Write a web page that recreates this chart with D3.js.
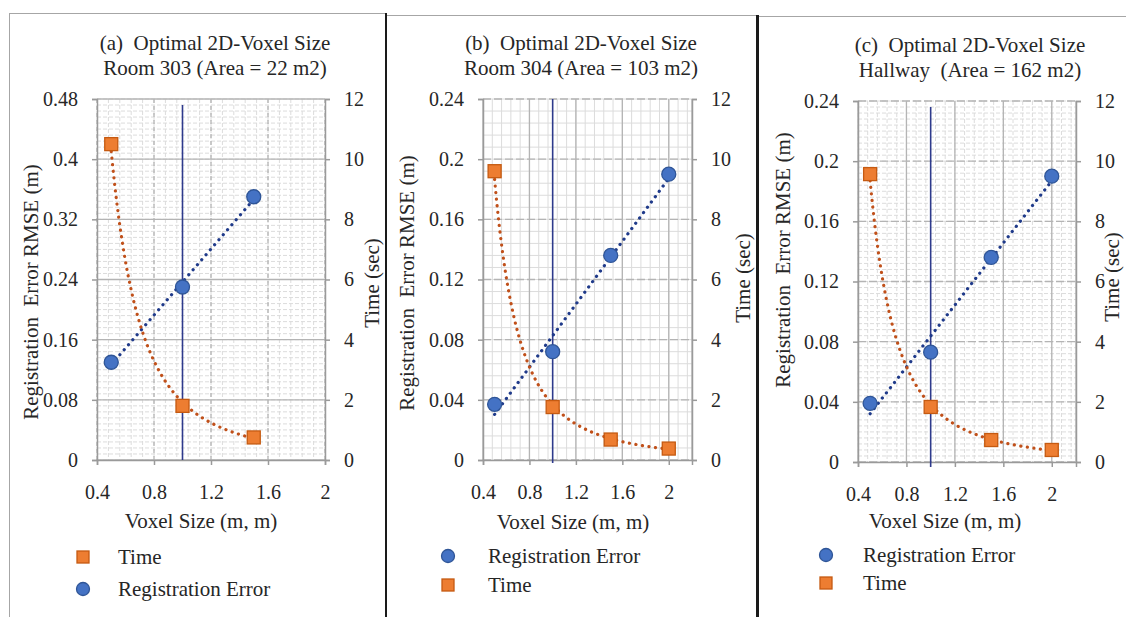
<!DOCTYPE html>
<html>
<head>
<meta charset="utf-8">
<script src="https://cdn.jsdelivr.net/npm/d3@7"></script>
<style>
  body { margin: 0; background: #fff; }
  svg { display: block; }
  text { fill: #262626; white-space: pre; }
</style>
</head>
<body>
<div id="chart"></div>
<script>
// values
var voxel_a = [0.5, 1.0, 1.5];
var regError_a = [0.13, 0.23, 0.35];
var time_a = [10.5, 1.8, 0.75];

var voxel_bc = [0.5, 1.0, 1.5, 2.0];
var regError_b = [0.037, 0.072, 0.136, 0.19];
var time_b = [9.6, 1.76, 0.68, 0.38];
var regError_c = [0.039, 0.073, 0.136, 0.19];
var time_c = [9.57, 1.83, 0.73, 0.4];

var xTicks = [0.4, 0.8, 1.2, 1.6, 2];
var errTicks_a = [0, 0.08, 0.16, 0.24, 0.32, 0.4, 0.48];
var errTicks_bc = [0, 0.04, 0.08, 0.12, 0.16, 0.2, 0.24];
var timeTicks = [0, 2, 4, 6, 8, 10, 12];
var optimalVoxel = 1.0;

var titles_a = ["(a)  Optimal 2D-Voxel Size", "Room 303 (Area = 22 m2)"];
var titles_b = ["(b)  Optimal 2D-Voxel Size", "Room 304 (Area = 103 m2)"];
var titles_c = ["(c)  Optimal 2D-Voxel Size", "Hallway  (Area = 162 m2)"];

var FONT = "'Liberation Serif', Tinos, 'Times New Roman', Times, 'DejaVu Serif', serif";
var W = 1126, H = 617;
var svg = d3.select("#chart").append("svg").attr("width", W).attr("height", H);

// panel frames
svg.append("rect").attr("x", 9.5).attr("y", 13.5).attr("width", 377).attr("height", 620)
  .attr("fill", "none").attr("stroke", "#a6a6a6").attr("stroke-width", 1);
svg.append("line").attr("x1", 386).attr("x2", 757).attr("y1", 15.5).attr("y2", 15.5)
  .attr("stroke", "#a6a6a6");
svg.append("line").attr("x1", 757).attr("x2", 1126).attr("y1", 16.5).attr("y2", 16.5)
  .attr("stroke", "#a6a6a6");
svg.append("line").attr("x1", 386).attr("x2", 386).attr("y1", 13).attr("y2", H)
  .attr("stroke", "#1a1a1a").attr("stroke-width", 2);
svg.append("line").attr("x1", 757.5).attr("x2", 757.5).attr("y1", 15).attr("y2", H)
  .attr("stroke", "#1a1a1a").attr("stroke-width", 3);

function linearFit(xs, ys) {
  var mx = d3.mean(xs), my = d3.mean(ys);
  var sxy = d3.sum(xs, (x, i) => (x - mx) * (ys[i] - my));
  var sxx = d3.sum(xs, (x) => (x - mx) * (x - mx));
  var b = sxy / sxx;
  return (x) => my + b * (x - mx);
}

function powerFit(xs, ys) {
  var lx = xs.map(Math.log), ly = ys.map(Math.log);
  var f = linearFit(lx, ly);
  return (x) => Math.exp(f(Math.log(x)));
}

function drawPanel(p) {
  var g = svg.append("g");
  var x = d3.scaleLinear().domain(p.xDomain).range([p.left, p.right]);
  var y = d3.scaleLinear().domain([0, p.errMax]).range([p.bottom, p.top]);
  var y2 = d3.scaleLinear().domain([0, 12]).range([p.bottom, p.top]);

  // minor grid
  var xMinor = d3.range(p.xDomain[0], p.xDomain[1] + 1e-9, 0.08);
  var yMinor = d3.range(0, p.errMax + 1e-9, p.errMax / p.yMinorCount);
  g.append("g").selectAll("line").data(xMinor).enter().append("line")
    .attr("x1", (d) => x(d)).attr("x2", (d) => x(d))
    .attr("y1", p.top).attr("y2", p.bottom)
    .attr("stroke", "#dcdcdc").attr("stroke-width", 1)
    .attr("stroke-dasharray", p.minorDash);
  g.append("g").selectAll("line").data(yMinor).enter().append("line")
    .attr("x1", p.left).attr("x2", p.right)
    .attr("y1", (d) => y(d)).attr("y2", (d) => y(d))
    .attr("stroke", "#dcdcdc").attr("stroke-width", 1)
    .attr("stroke-dasharray", p.minorDash);

  // major grid
  g.append("g").selectAll("line").data(xTicks.concat(p.xDomain[1] > 2 ? [p.xDomain[1]] : [])).enter().append("line")
    .attr("x1", (d) => x(d)).attr("x2", (d) => x(d))
    .attr("y1", p.top).attr("y2", p.bottom)
    .attr("stroke", "#b4b4b4").attr("stroke-width", 1.3)
    .attr("stroke-dasharray", p.vMajorDash);
  g.append("g").selectAll("line").data(p.errTicks).enter().append("line")
    .attr("x1", p.left).attr("x2", p.right)
    .attr("y1", (d) => y(d)).attr("y2", (d) => y(d))
    .attr("stroke", "#b4b4b4").attr("stroke-width", 1.3)
    .attr("stroke-dasharray", p.hMajorDash);

  // axes
  var axL = g.append("g").attr("transform", "translate(" + p.left + ",0)")
    .call(d3.axisLeft(y).tickValues(p.errTicks).tickSize(5).tickPadding(14)
      .tickFormat((d) => d3.format("~g")(d)));
  var axR = g.append("g").attr("transform", "translate(" + p.right + ",0)")
    .call(d3.axisRight(y2).tickValues(timeTicks).tickSize(5).tickPadding(14));
  var axB = g.append("g").attr("transform", "translate(0," + p.bottom + ")")
    .call(d3.axisBottom(x).tickValues(xTicks).tickSize(5).tickPadding(20)
      .tickFormat((d) => d3.format("~g")(d)));
  [axL, axR, axB].forEach((a) => {
    a.attr("font-family", null);
    a.select(".domain").attr("stroke", "#9a9a9a").attr("stroke-width", 1.5);
    a.selectAll(".tick line").attr("stroke", "#9a9a9a").attr("stroke-width", 1.5);
    a.selectAll(".tick text").attr("font-size", 20).attr("fill", "#262626");
  });

  // optimal voxel line
  g.append("line")
    .attr("x1", x(optimalVoxel)).attr("x2", x(optimalVoxel))
    .attr("y1", p.vTop).attr("y2", p.vBottom)
    .attr("stroke", "#2e3a8c").attr("stroke-width", 1.6);

  // trendlines
  var xs = p.voxel;
  var fErr = linearFit(xs, p.err);
  var fTime = powerFit(xs, p.time);
  var xr = d3.range(xs[0], xs[xs.length - 1] + 1e-9, 0.01);
  g.append("path").datum(xr)
    .attr("d", d3.line().x((d) => x(d)).y((d) => y(fErr(d))))
    .attr("fill", "none").attr("stroke", "#1f3a8a").attr("stroke-width", 3.2)
    .attr("stroke-linecap", "round").attr("stroke-dasharray", "0.1 6.5");
  g.append("path").datum(xr)
    .attr("d", d3.line().x((d) => x(d)).y((d) => y2(fTime(d))))
    .attr("fill", "none").attr("stroke", "#c0501a").attr("stroke-width", 3.2)
    .attr("stroke-linecap", "round").attr("stroke-dasharray", "0.1 6.5");

  // markers
  g.append("g").selectAll("circle").data(xs).enter().append("circle")
    .attr("cx", (d) => x(d)).attr("cy", (d, i) => y(p.err[i])).attr("r", 7)
    .attr("fill", "#4472c4").attr("stroke", "#2f5597").attr("stroke-width", 1.3);
  g.append("g").selectAll("rect").data(xs).enter().append("rect")
    .attr("x", (d) => x(d) - 6.5).attr("y", (d, i) => y2(p.time[i]) - 6.5)
    .attr("width", 13).attr("height", 13)
    .attr("fill", "#ed7d31").attr("stroke", "#c55a11").attr("stroke-width", 1.3);

  // titles
  g.append("text").attr("x", p.titleX).attr("y", p.titleY).attr("text-anchor", "middle")
    .attr("font-size", 21).text(p.titles[0]);
  g.append("text").attr("x", p.titleX).attr("y", p.titleY + 25).attr("text-anchor", "middle")
    .attr("font-size", 21).text(p.titles[1]);

  // axis titles
  g.append("text").attr("transform", "translate(" + p.yTitle[0] + "," + p.yTitle[1] + ") rotate(-90)")
    .attr("text-anchor", "middle").attr("dominant-baseline", "central")
    .attr("font-size", 21).text("Registration  Error RMSE (m)");
  g.append("text").attr("transform", "translate(" + p.y2Title[0] + "," + p.y2Title[1] + ") rotate(-90)")
    .attr("text-anchor", "middle").attr("dominant-baseline", "central")
    .attr("font-size", 21).text("Time (sec)");
  g.append("text").attr("x", p.xTitle[0]).attr("y", p.xTitle[1]).attr("text-anchor", "middle")
    .attr("font-size", 21).text("Voxel Size (m, m)");

  // legend
  p.legend.forEach((item, i) => {
    var ly = p.legendY + i * p.legendGap;
    if (item == "Time") {
      g.append("rect").attr("x", p.legendX - 6).attr("y", ly - 6).attr("width", 12).attr("height", 12)
        .attr("fill", "#ed7d31").attr("stroke", "#c55a11").attr("stroke-width", 1.3);
    } else {
      g.append("circle").attr("cx", p.legendX).attr("cy", ly).attr("r", 6.5)
        .attr("fill", "#4472c4").attr("stroke", "#2f5597").attr("stroke-width", 1.3);
    }
    g.append("text").attr("x", p.legendX + p.legendText).attr("y", ly)
      .attr("dominant-baseline", "central").attr("font-size", 21).text(item);
  });
}

drawPanel({
  voxel: voxel_a, err: regError_a, time: time_a,
  xDomain: [0.4, 2.0], errMax: 0.48, errTicks: errTicks_a,
  left: 97, right: 325, top: 99, bottom: 460, vTop: 105, vBottom: 460,
  yMinorCount: 60, minorDash: "4 2", vMajorDash: "4 3", hMajorDash: null,
  titles: titles_a, titleX: 215, titleY: 50,
  yTitle: [31, 292], y2Title: [372, 283], xTitle: [201, 528],
  legend: ["Time", "Registration Error"], legendX: 83, legendY: 557, legendGap: 32, legendText: 35
});
drawPanel({
  voxel: voxel_bc, err: regError_b, time: time_b,
  xDomain: [0.4, 2.2], errMax: 0.24, errTicks: errTicks_bc,
  left: 483, right: 692, top: 99, bottom: 460, vTop: 99, vBottom: 463,
  yMinorCount: 30, minorDash: null, vMajorDash: null, hMajorDash: "8 3",
  titles: titles_b, titleX: 581, titleY: 50,
  yTitle: [407, 283], y2Title: [743, 278], xTitle: [573, 529],
  legend: ["Registration Error", "Time"], legendX: 448, legendY: 556, legendGap: 29, legendText: 40
});
drawPanel({
  voxel: voxel_bc, err: regError_c, time: time_c,
  xDomain: [0.4, 2.2], errMax: 0.24, errTicks: errTicks_bc,
  left: 858, right: 1076, top: 101, bottom: 462, vTop: 107, vBottom: 467,
  yMinorCount: 60, minorDash: "4 2", vMajorDash: null, hMajorDash: "8 3",
  titles: titles_c, titleX: 970, titleY: 52,
  yTitle: [783, 260], y2Title: [1112, 277], xTitle: [945, 528],
  legend: ["Registration Error", "Time"], legendX: 826, legendY: 555, legendGap: 28, legendText: 37
});

svg.selectAll("text").style("font-family", FONT);
</script>
</body>
</html>
